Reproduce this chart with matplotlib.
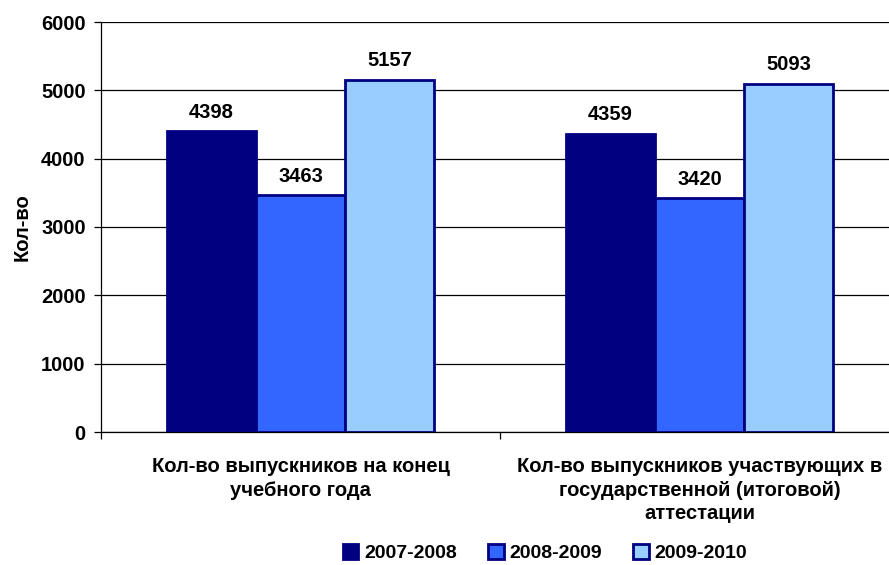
import numpy as np
import matplotlib.pyplot as plt

plt.rcParams['font.family'] = ['Liberation Sans', 'DejaVu Sans']
plt.rcParams['font.weight'] = 'bold'

categories = ["Кол-во выпускников на конец\nучебного года",
              "Кол-во выпускников участвующих в\nгосударственной (итоговой)\nаттестации"]
years = ["2007-2008", "2008-2009", "2009-2010"]
values = {
    "2007-2008": [4398, 4359],
    "2008-2009": [3463, 3420],
    "2009-2010": [5157, 5093],
}
colors = ["#000080", "#3366FF", "#99CCFF"]
edge = "#000080"
fs = 14.5

fig = plt.figure(figsize=(8.89, 5.65), dpi=100)
# right edge runs past the figure, like the original
ax = fig.add_axes([101/889, 1 - 432/565, 798/889, 410/565])

x = np.arange(len(categories))
w = 0.223
for i, (yr, c) in enumerate(zip(years, colors)):
    pos = x + (i - 1) * w
    ax.bar(pos, values[yr], width=w, color=c, edgecolor=edge,
           linewidth=2, label=yr, zorder=3)
    for xb, v in zip(pos, values[yr]):
        ax.annotate(str(v), (xb, v), xytext=(0, 7), textcoords="offset points",
                    ha="center", va="bottom", fontsize=fs, fontweight="bold")

ax.set_xlim(-0.5, 1.5)
ax.set_ylim(0, 6000)
ax.set_yticks(np.arange(0, 6001, 1000))
ax.yaxis.grid(True, color="black", linewidth=0.9, zorder=0)
ax.set_xticks([-0.5, 0.5, 1.5])
ax.set_xticklabels([])
ax.set_xticks(x, minor=True)
ax.set_xticklabels(categories, minor=True, fontsize=fs, fontweight="bold",
                   linespacing=1.3)
ax.tick_params(axis="x", which="minor", length=0, pad=18)
ax.tick_params(axis="x", which="major", length=5, width=0.9, direction="out")
ax.tick_params(axis="y", length=5, width=0.9, labelsize=fs, pad=6)
for s in ["top", "right"]:
    ax.spines[s].set_visible(False)
ax.spines["left"].set_linewidth(0.9)
ax.spines["bottom"].set_linewidth(0.9)
ax.set_ylabel("Кол-во", fontsize=fs, fontweight="bold", labelpad=7)

fig.legend(loc="center", bbox_to_anchor=(545/889, 1 - 553/565), ncol=3,
           frameon=False, fontsize=14, handlelength=0.8, handleheight=0.8,
           handletextpad=0.3, columnspacing=1.6)

fig.savefig("out.png", dpi=100)
